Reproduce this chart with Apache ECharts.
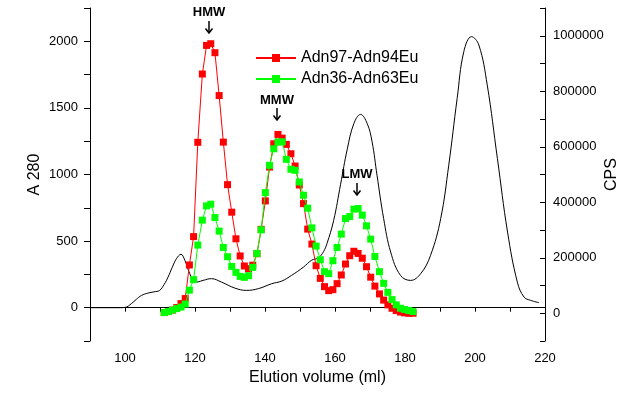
<!DOCTYPE html>
<html><head><meta charset="utf-8">
<script src="https://cdn.jsdelivr.net/npm/echarts@6/dist/echarts.min.js"></script>
<style>html,body{margin:0;padding:0;background:#fff}#c{width:632px;height:395px}</style>
</head><body><div id="c"></div>
<script>
// Fraction elution volumes (ml) for the radioactivity traces
const fractionVolume = [111.2,112.4,113.6,114.8,116.0,117.2,118.4,119.6,120.8,122.1,123.3,124.5,125.7,126.9,128.1,129.3,130.5,131.7,132.9,134.1,135.3,136.5,137.7,138.9,140.1,141.3,142.5,143.7,144.9,146.1,147.4,148.6,149.8,151.0,152.2,153.4,154.6,155.8,157.0,158.2,159.4,160.6,161.8,163.0,164.2,165.4,166.6,167.8,169.0,170.2,171.4,172.7,173.9,175.1,176.3,177.5,178.7,179.9,181.1,182.3];
// CPS values
const adn97Adn94Eu = [2500,6100,11500,20500,34800,52800,173900,276200,616000,862100,965200,971300,938900,784500,616700,463400,364200,268300,206500,170300,160600,173100,214400,302400,404800,526900,610600,644400,631100,608500,574700,530500,462300,395100,303200,249300,171300,125700,95900,81500,85100,106700,137900,177400,207300,223400,215500,198300,167700,130000,97700,69700,47400,30200,18000,9700,4300,1400,0,0];
const adn36Adn63Eu = [2500,6100,11500,16900,22300,33000,83300,121000,245700,335500,386900,393000,344800,296000,237100,203700,168800,147300,132900,129300,135400,165200,215500,300600,434600,533100,592700,616700,617800,554600,518700,515100,473100,425300,378600,307800,242100,192900,149800,142600,189300,237100,285200,341200,348400,375000,377200,353500,315000,267200,204700,149800,107800,75400,49200,30200,18000,13300,9700,6100];
// A280 UV trace
const uvVolume = [90,98,100,101.8,103.2,104.7,106.6,108.3,109.9,111.2,112.3,113.5,114.7,116.0,117.1,118.5,120.0,120.9,122.3,124.7,127.6,131.4,134.7,138.1,141.9,144.8,147.6,151.0,153.3,155.3,156.7,157.7,159.6,161.6,163.5,165.4,167.3,169.2,170.6,172.0,173.9,175.9,178.7,181.6,184.5,187.3,190.2,192.5,194.9,196.8,199.0,201.1,203.5,206.4,209.3,212.1,214.0,215.9,218.3];
const uvA280 = [0,0,2,30,62,92,110,119,130,175,230,303,368,401,356,256,192,194,205,218,192,147,130,143,180,200,243,305,356,375,420,481,653,927,1190,1383,1451,1383,1245,995,669,418,243,205,256,393,669,1070,1571,1922,2035,1972,1671,1120,568,192,80,55,38];
const xTickLabels = [100,120,140,160,180,200,220];
const leftTickLabels = [0,500,1000,1500,2000];
const rightTickLabels = [0,200000,400000,600000,800000,1000000];
const peakLabels = ['HMW','MMW','LMW'];

const FONT = '"Liberation Sans", Arial, sans-serif';
const chart = echarts.init(document.getElementById('c'), null, {renderer:'canvas'});
const pair = (xs, ys) => xs.map((x, i) => [x, ys[i]]);

function arrow(x, y1, y2) {
  return [
    {type:'line', shape:{x1:x, y1:y1, x2:x, y2:y2}, style:{stroke:'#000', lineWidth:1.5}},
    {type:'polyline', shape:{points:[[x-3.5,y2-4.5],[x,y2],[x+3.5,y2-4.5]]}, style:{stroke:'#000', lineWidth:1.5, fill:null}}
  ];
}
const peakPos = [[209,12.5,21,33],[277,100,108,120],[357,174.5,183,195]];
const graphics = [];
peakLabels.forEach((t, i) => {
  const p = peakPos[i];
  graphics.push({type:'text', x:p[0], y:p[1], style:{text:t, font:'bold 13px ' + FONT, fill:'#000', align:'center', verticalAlign:'middle'}});
  graphics.push(...arrow(p[0], p[2], p[3]));
});

chart.setOption({
  animation:false,
  backgroundColor:'#fff',
  grid:{left:90, right:87, top:8, bottom:54, containLabel:false, outerBoundsMode:'none'},
  legend:{
    data:['Adn97-Adn94Eu','Adn36-Adn63Eu'],
    orient:'vertical', left:250, top:45, itemWidth:40, itemHeight:10, itemGap:5,
    textStyle:{fontFamily:FONT, fontSize:16, color:'#000'}
  },
  xAxis:{
    type:'value', min:90, max:220, interval:10,
    name:'Elution volume (ml)', nameLocation:'middle', nameGap:29, nameMoveOverlap:false,
    nameTextStyle:{fontFamily:FONT, fontSize:16, color:'#000'},
    axisLine:{lineStyle:{color:'#000', width:1}},
    axisTick:{length:4, lineStyle:{color:'#000'}},
    axisLabel:{fontFamily:FONT, fontSize:13, color:'#000', margin:11,
      formatter:v => xTickLabels.includes(v) ? String(v) : ''},
    splitLine:{show:false}
  },
  yAxis:[{
    type:'value', min:-250, max:2250, interval:250, position:'left',
    name:'A 280', nameLocation:'middle', nameGap:47, nameRotate:90, nameMoveOverlap:false,
    nameTextStyle:{fontFamily:FONT, fontSize:16, color:'#000'},
    axisLine:{show:true, lineStyle:{color:'#000', width:1}},
    axisTick:{show:true, length:6, lineStyle:{color:'#000'}},
    axisLabel:{fontFamily:FONT, fontSize:13, color:'#000', margin:12,
      formatter:v => leftTickLabels.includes(v) ? String(v) : ''},
    splitLine:{show:false}
  },{
    type:'value', min:-100000, max:1100000, interval:100000, position:'right',
    name:'CPS', nameLocation:'middle', nameGap:59, nameRotate:90, nameMoveOverlap:false,
    nameTextStyle:{fontFamily:FONT, fontSize:16, color:'#000'},
    axisLine:{show:true, lineStyle:{color:'#000', width:1}},
    axisTick:{show:true, inside:true, length:5, lineStyle:{color:'#000'}},
    axisLabel:{fontFamily:FONT, fontSize:13, color:'#000', margin:8,
      formatter:v => rightTickLabels.includes(v) ? String(v) : ''},
    splitLine:{show:false}
  }],
  series:[{
    name:'A280', type:'line', yAxisIndex:0, data:pair(uvVolume, uvA280),
    smooth:0.4, showSymbol:false, symbol:'none',
    lineStyle:{color:'#000', width:1}, itemStyle:{color:'#000'}, z:1
  },{
    name:'Adn97-Adn94Eu', type:'line', yAxisIndex:1, data:pair(fractionVolume, adn97Adn94Eu),
    symbol:'rect', symbolSize:7, showAllSymbol:true,
    lineStyle:{color:'#ff0000', width:1}, itemStyle:{color:'#ff0000'}, z:2
  },{
    name:'Adn36-Adn63Eu', type:'line', yAxisIndex:1, data:pair(fractionVolume, adn36Adn63Eu),
    symbol:'rect', symbolSize:7, showAllSymbol:true,
    lineStyle:{color:'#00ff00', width:1}, itemStyle:{color:'#00ff00'}, z:3
  }],
  graphic:graphics
});
</script></body></html>
